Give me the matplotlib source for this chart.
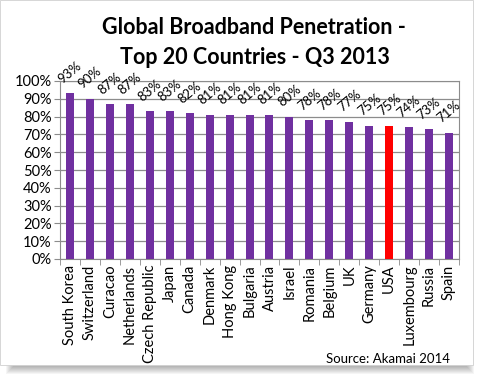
import matplotlib.pyplot as plt
import matplotlib.patches as mpatches
import numpy as np

countries = ['South Korea', 'Switzerland', 'Curacao', 'Netherlands', 'Czech Republic',
             'Japan', 'Canada', 'Denmark', 'Hong Kong', 'Bulgaria', 'Austria', 'Israel',
             'Romania', 'Belgium', 'UK', 'Germany', 'USA', 'Luxembourg', 'Russia', 'Spain']
penetration = [93, 90, 87, 87, 83, 83, 82, 81, 81, 81, 81, 80, 78, 78, 77, 75, 75, 74, 73, 71]
highlight = 'USA'

plt.rcParams['font.family'] = ['Lato', 'DejaVu Sans']

fig = plt.figure(figsize=(4.9, 3.84), dpi=100)
W, H = 490.0, 384.0

# card shadow
for i in range(8):
    fig.patches.append(mpatches.Rectangle(((6 + i) / W, (384 - 374 + i) / H),
                                          (468 - 2 * i) / W, (364 - i) / H,
                                          transform=fig.transFigure, facecolor='black',
                                          alpha=0.04, edgecolor='none', zorder=0))
fig.patches.append(mpatches.Rectangle((0, (384 - 365) / H), 473 / W, 365 / H,
                                      transform=fig.transFigure, facecolor='white',
                                      edgecolor='#d0d0d0', lw=0.6, zorder=1))

ax = fig.add_axes([60 / W, (384 - 259) / H, 399 / W, 178 / H])
ax.set_zorder(2)
x = np.arange(len(countries))
colors = ['#ff0000' if c == highlight else '#7030a0' for c in countries]
ax.bar(x, penetration, width=0.4, color=colors, zorder=3)

ax.set_xlim(-0.5, len(countries) - 0.5)
ax.set_ylim(0, 100)
ax.set_yticks(range(0, 101, 10))
ax.set_yticklabels([f'{v}%' for v in range(0, 101, 10)], fontsize=10.5)
ax.yaxis.grid(True, color='#8c8c8c', lw=0.9, zorder=0)
ax.set_xticks(x)
ax.set_xticklabels(countries, rotation=90, fontsize=10.5)
ax.tick_params(axis='x', length=0, pad=4)
ax.set_xticks(np.arange(-0.5, len(countries), 1), minor=True)
ax.tick_params(axis='x', which='minor', length=4, color='#8c8c8c')
ax.tick_params(axis='y', length=4, color='#8c8c8c', pad=2)
for s in ax.spines.values():
    s.set_color('#8c8c8c')

for xi, v in zip(x, penetration):
    ax.annotate(f'{v}%', (xi, v), xytext=(0, 15), textcoords='offset points',
                rotation=40, fontsize=9.5, ha='center', va='center')

fig.text(254 / W, 1 - 27 / H, 'Global Broadband Penetration -', fontsize=15.5,
         fontweight='bold', ha='center', va='center')
fig.text(255 / W, 1 - 57 / H, 'Top 20 Countries - Q3 2013', fontsize=15.5,
         fontweight='bold', ha='center', va='center')
fig.text(450 / W, 1 - 359 / H, 'Source: Akamai 2014', fontsize=9.5, ha='right', va='center')

fig.savefig('out.png', dpi=100)
